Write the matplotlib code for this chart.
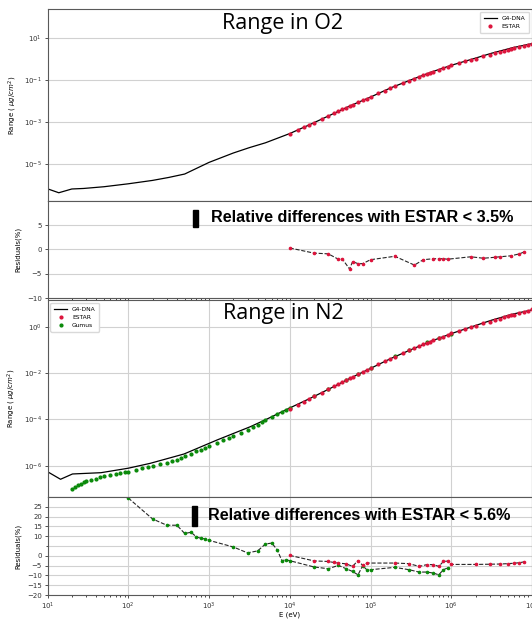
import matplotlib
matplotlib.use('Agg')
import matplotlib.pyplot as plt
from matplotlib.patches import Rectangle
from matplotlib.ticker import LogLocator, NullFormatter

matplotlib.rcParams.update({'font.size': 5, 'font.family': 'DejaVu Sans'})

# ---------------- O2 data ----------------
o2_g4_e = [10.5, 13.8, 20, 28, 50, 100, 200, 316, 500, 1000, 2000, 3160, 5000, 1e4,
           1.78e4, 3.16e4, 5.62e4, 1e5, 1.78e5, 3.16e5, 5.62e5, 1e6, 1.78e6, 3.16e6, 5.62e6, 1e7]
o2_g4_r = [6.5e-7, 4.5e-7, 6.8e-7, 7.2e-7, 8.7e-7, 1.2e-6, 1.74e-6, 2.4e-6, 3.5e-6, 1.25e-5,
           3.5e-5, 6.3e-5, 1.07e-4, 2.95e-4, 7.9e-4, 2.2e-3, 6.2e-3, 1.6e-2, 4.4e-2, 0.105,
           0.245, 0.52, 1.0, 1.95, 3.5, 5.6]

estar_e = [1e4, 1.25e4, 1.5e4, 1.75e4, 2e4, 2.5e4, 3e4, 3.5e4, 4e4, 4.5e4, 5e4, 5.5e4, 6e4,
           7e4, 8e4, 9e4, 1e5, 1.25e5, 1.5e5, 1.75e5, 2e5, 2.5e5, 3e5, 3.5e5, 4e5, 4.5e5,
           5e5, 5.5e5, 6e5, 7e5, 8e5, 9e5, 1e6, 1.25e6, 1.5e6, 1.75e6, 2e6, 2.5e6, 3e6,
           3.5e6, 4e6, 4.5e6, 5e6, 5.5e6, 6e6, 7e6, 8e6, 9e6, 1e7]
o2_estar_r = [2.95e-4, 4.3e-4, 5.9e-4, 7.8e-4, 9.8e-4, 1.46e-3, 2.02e-3, 2.66e-3, 3.37e-3,
              4.15e-3, 4.99e-3, 5.88e-3, 6.82e-3, 8.9e-3, 1.12e-2, 1.37e-2, 1.64e-2, 2.39e-2,
              3.23e-2, 4.15e-2, 5.14e-2, 7.3e-2, 9.64e-2, 0.121, 0.147, 0.174, 0.201, 0.229,
              0.257, 0.314, 0.372, 0.430, 0.52, 0.66, 0.80, 0.94, 1.08, 1.37, 1.66, 1.94,
              2.22, 2.50, 2.78, 3.06, 3.33, 3.88, 4.42, 4.97, 5.55]

o2_res_e = [1e4, 2e4, 3e4, 4e4, 4.5e4, 5.5e4, 6e4, 7e4, 8e4, 1e5, 2e5, 3.5e5, 4.5e5, 6e5,
            7e5, 8e5, 9e5, 1.75e6, 2.5e6, 3.5e6, 4e6, 5.5e6, 7e6, 8e6]
o2_res = [0.3, -0.75, -0.9, -2.0, -2.0, -4.0, -2.5, -2.9, -2.9, -2.1, -1.4, -3.2, -2.1, -1.9,
          -1.9, -1.9, -2.0, -1.5, -1.8, -1.6, -1.5, -1.3, -0.9, -0.5]

# ---------------- N2 data ----------------
n2_g4_e = [10.5, 14.5, 20.4, 46, 100, 186, 490, 1260, 3240, 5130, 1e4, 1.78e4, 3.16e4,
           5.62e4, 1e5, 1.78e5, 3.16e5, 5.62e5, 1e6, 1.78e6, 3.16e6, 5.62e6, 1e7]
n2_g4_r = [5.0e-7, 2.6e-7, 4.4e-7, 5.0e-7, 7.8e-7, 1.26e-6, 3.2e-6, 1.29e-5, 4.8e-5, 1.0e-4,
           3.1e-4, 8.0e-4, 2.15e-3, 6.0e-3, 1.58e-2, 4.2e-2, 0.101, 0.235, 0.50, 0.98, 1.9,
           3.4, 5.3]

n2_estar_r = [2.9e-4, 4.25e-4, 5.85e-4, 7.7e-4, 9.7e-4, 1.44e-3, 2.0e-3, 2.63e-3, 3.33e-3,
              4.1e-3, 4.94e-3, 5.82e-3, 6.75e-3, 8.8e-3, 1.11e-2, 1.36e-2, 1.62e-2, 2.36e-2,
              3.2e-2, 4.1e-2, 5.08e-2, 7.2e-2, 9.5e-2, 0.12, 0.145, 0.172, 0.199, 0.226,
              0.254, 0.31, 0.368, 0.425, 0.52, 0.66, 0.80, 0.94, 1.08, 1.37, 1.66, 1.94,
              2.22, 2.50, 2.78, 3.06, 3.33, 3.88, 4.42, 4.97, 5.50]

gumus_e = [20, 22, 24, 26, 28, 30, 35, 40, 45, 50, 60, 70, 80, 90, 100, 125, 150, 175, 200,
           250, 300, 350, 400, 450, 500, 600, 700, 800, 900, 1000, 1250, 1500, 1750, 2000,
           2500, 3000, 3500, 4000, 4500, 5000, 6000, 7000, 8000, 9000, 1e4, 2e4, 3e4, 5e4,
           7e4, 1e5, 2e5, 3e5, 5e5, 7e5, 1e6]
gumus_r = [1.02e-7, 1.2e-7, 1.41e-7, 1.66e-7, 1.9e-7, 2.1e-7, 2.45e-7, 2.8e-7, 3.15e-7,
           3.45e-7, 4.0e-7, 4.45e-7, 4.9e-7, 5.25e-7, 5.5e-7, 6.6e-7, 7.8e-7, 8.7e-7, 9.5e-7,
           1.15e-6, 1.35e-6, 1.58e-6, 1.82e-6, 2.1e-6, 2.5e-6, 3.3e-6, 4.2e-6, 5.0e-6, 6.0e-6,
           7.1e-6, 9.8e-6, 1.29e-5, 1.58e-5, 1.9e-5, 2.7e-5, 3.6e-5, 4.6e-5, 5.9e-5, 7.4e-5,
           9.1e-5, 1.23e-4, 1.66e-4, 2.1e-4, 2.5e-4, 3.0e-4, 1.0e-3, 2.0e-3, 5.0e-3, 9.0e-3,
           1.7e-2, 5.3e-2, 0.1, 0.21, 0.33, 0.5]

n2_res_estar_e = [1e4, 2e4, 3e4, 3.5e4, 4e4, 5e4, 6e4, 7e4, 8e4, 9e4, 2e5, 3e5, 4e5, 5e5,
                  6e5, 7e5, 8e5, 9e5, 1e6, 2e6, 3e6, 4e6, 5e6, 6e6, 7e6, 8e6]
n2_res_estar = [0.2, -2.6, -2.9, -3.4, -3.7, -4.1, -5.4, -2.4, -4.9, -3.7, -3.7, -4.0, -5.4,
                -4.5, -4.5, -5.4, -2.9, -2.7, -4.4, -4.4, -4.3, -4.2, -4.0, -3.8, -3.5, -3.1]

n2_res_gumus_e = [100, 200, 300, 400, 500, 600, 700, 800, 900, 1000, 2000, 3000, 4000, 5000,
                  6000, 7000, 8000, 9000, 1e4, 2e4, 3e4, 4e4, 5e4, 6e4, 7e4, 8e4, 9e4, 1e5,
                  2e5, 3e5, 4e5, 5e5, 6e5, 7e5, 8e5, 9e5]
n2_res_gumus = [29.5, 18.8, 15.6, 15.6, 11.4, 12.0, 9.6, 8.9, 8.6, 7.9, 4.5, 1.5, 2.5, 6.0,
                6.5, 3.0, -2.5, -2.0, -2.5, -5.7, -6.6, -4.9, -6.6, -8.0, -9.7, -5.1, -7.1,
                -7.1, -5.9, -7.1, -8.3, -8.3, -8.8, -9.7, -7.1, -6.2]

RED = '#dc143c'
GREEN = '#0a8a0a'
SPINE = '0.35'

fig = plt.figure(figsize=(5.32, 6.19), dpi=100)
L, W = 47.5 / 532, 1 - 47.5 / 532


def frame(ax, xgrid):
    ax.set_xscale('log')
    ax.set_xlim(10, 1e7)
    for s in ax.spines.values():
        s.set_color(SPINE)
        s.set_linewidth(0.8)
    ax.tick_params(labelsize=5, length=2.5, width=0.6, colors='0.2', pad=1.5)
    ax.tick_params(which='minor', length=1.5, width=0.5)
    ax.xaxis.set_minor_locator(LogLocator(base=10, subs=range(2, 10), numticks=20))
    ax.xaxis.set_minor_formatter(NullFormatter())
    ax.grid(True, axis='y', color='0.82', linewidth=0.8)
    if xgrid:
        ax.grid(True, axis='x', which='major', color='0.82', linewidth=0.8)
    ax.set_axisbelow(True)


# ---- O2 range ----
ax1 = fig.add_axes([L, 1 - 200.6 / 619, W, 191.3 / 619])
frame(ax1, False)
ax1.plot(o2_g4_e, o2_g4_r, color='k', linewidth=0.9, label='G4-DNA')
ax1.plot(estar_e, o2_estar_r, 'o', color=RED, markersize=2.0, label='ESTAR')
ax1.set_yscale('log')
ax1.set_ylim(10 ** -6.72, 10 ** 2.38)
ax1.set_yticks([1e1, 1e-1, 1e-3, 1e-5])
ax1.yaxis.set_minor_locator(matplotlib.ticker.NullLocator())
ax1.tick_params(labelbottom=False)
ax1.set_ylabel(r'Range ( $\mu g/cm^2$)', fontsize=5)
ax1.legend(loc='upper right', fontsize=4.3, handlelength=2.2, borderpad=0.6,
           framealpha=1, edgecolor='0.85')

# ---- O2 residuals ----
ax2 = fig.add_axes([L, 1 - 298.3 / 619, W, 97.7 / 619])
frame(ax2, False)
ax2.plot(o2_res_e, o2_res, '--', color='0.15', linewidth=0.8, marker='o',
         markersize=1.6, markerfacecolor=RED, markeredgecolor=RED)
ax2.set_ylim(-10, 10)
ax2.set_yticks([-10, -5, 0, 5])
ax2.tick_params(labelbottom=False)
ax2.set_ylabel('Residuals(%)', fontsize=5)

# ---- N2 range ----
ax3 = fig.add_axes([L, 1 - 497 / 619, W, 197 / 619])
frame(ax3, True)
ax3.plot(n2_g4_e, n2_g4_r, color='k', linewidth=0.9, label='G4-DNA')
ax3.plot(gumus_e, gumus_r, 'o', color=GREEN, markersize=2.0, label='Gumus', zorder=3)
ax3.plot(estar_e, n2_estar_r, 'o', color=RED, markersize=2.0, label='ESTAR', zorder=4)
ax3.set_yscale('log')
ax3.set_ylim(10 ** -7.35, 10 ** 1.15)
ax3.set_yticks([1e0, 1e-2, 1e-4, 1e-6])
ax3.yaxis.set_minor_locator(matplotlib.ticker.NullLocator())
ax3.tick_params(labelbottom=False)
ax3.set_ylabel(r'Range ( $\mu g/cm^2$)', fontsize=5)
h, lab = ax3.get_legend_handles_labels()
ax3.legend([h[0], h[2], h[1]], [lab[0], lab[2], lab[1]], loc='upper left', fontsize=4.3,
           handlelength=2.2, borderpad=0.6, framealpha=1, edgecolor='0.85')

# ---- N2 residuals ----
ax4 = fig.add_axes([L, 1 - 595 / 619, W, 98 / 619])
frame(ax4, True)
ax4.plot(n2_res_gumus_e, n2_res_gumus, '--', color='0.15', linewidth=0.8, marker='o',
         markersize=1.6, markerfacecolor=GREEN, markeredgecolor=GREEN)
ax4.plot(n2_res_estar_e, n2_res_estar, '--', color='0.15', linewidth=0.8, marker='o',
         markersize=1.6, markerfacecolor=RED, markeredgecolor=RED)
ax4.set_ylim(-20, 30)
ax4.set_yticks([-20, -15, -10, -5, 0, 10, 15, 20, 25])
ax4.set_yticks([5], minor=True)
ax4.grid(True, axis='y', which='minor', color='0.82', linewidth=0.8)
ax4.set_ylabel('Residuals(%)', fontsize=5)
ax4.set_xlabel('E (eV)', fontsize=5, labelpad=0)

# ---- titles and notes ----
fig.text(282 / 532, 1 - 24 / 619, 'Range in O2', fontsize=15.5, family='Open Sans',
         ha='center', va='center')
fig.text(283 / 532, 1 - 313 / 619, 'Range in N2', fontsize=15.5, family='Open Sans',
         ha='center', va='center')

note_font = dict(fontsize=11.6, fontweight='bold', family='Liberation Sans', va='center')
fig.text(211 / 532, 1 - 218 / 619, 'Relative differences with ESTAR < 3.5%', **note_font)
fig.text(208 / 532, 1 - 515 / 619, 'Relative differences with ESTAR < 5.6%', **note_font)
fig.patches.append(Rectangle((193 / 532, 1 - 227 / 619), 5 / 532, 17 / 619,
                             transform=fig.transFigure, color='k'))
fig.patches.append(Rectangle((192 / 532, 1 - 526 / 619), 5 / 532, 20 / 619,
                             transform=fig.transFigure, color='k'))

plt.savefig('out.png', dpi=100)
